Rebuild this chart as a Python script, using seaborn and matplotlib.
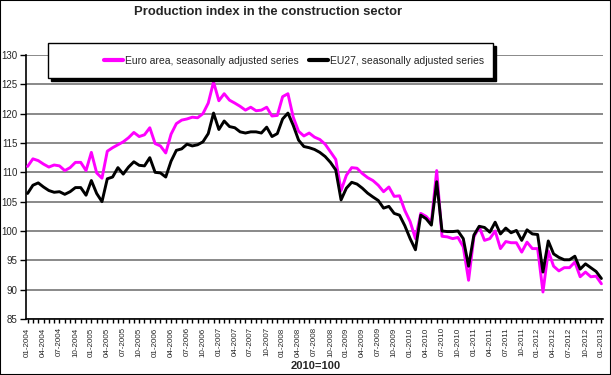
import numpy as np
import pandas as pd
import matplotlib
matplotlib.use("Agg")
import matplotlib.pyplot as plt
import seaborn as sns
from matplotlib.lines import Line2D
from matplotlib.patches import Rectangle

# ---------------- data ----------------
euro_area = [
    111.0, 112.3, 112.0, 111.4, 110.9, 111.25, 111.1, 110.3, 110.8, 111.7, 111.7, 110.3,   # 2004
    113.4, 109.9, 109.0, 113.6, 114.2, 114.7, 115.2, 115.9, 116.8, 116.1, 116.4, 117.6,    # 2005
    114.9, 114.5, 113.3, 116.5, 118.3, 118.9, 119.1, 119.4, 119.3, 120.0, 121.8, 125.4,    # 2006
    122.2, 123.4, 122.3, 121.8, 121.25, 120.6, 121.1, 120.5, 120.6, 121.1, 119.6, 119.7,   # 2007
    122.9, 123.4, 119.4, 117.0, 116.2, 116.7, 116.0, 115.6, 114.8, 113.5, 112.2, 106.9,    # 2008
    109.5, 110.8, 110.7, 109.8, 109.1, 108.6, 107.8, 106.7, 107.5, 105.9, 106.0, 103.5,    # 2009
    101.6, 98.7, 103.0, 102.5, 101.5, 110.3, 99.1, 99.0, 98.7, 98.9, 97.3, 91.6,           # 2010
    99.0, 100.7, 98.4, 98.7, 100.0, 97.0, 98.2, 98.0, 98.0, 96.4, 98.1, 97.0,              # 2011
    97.0, 89.6, 96.6, 94.0, 93.2, 93.75, 93.75, 94.7, 92.2, 93.0, 92.2, 92.3,              # 2012
    91.0,                                                                                  # 2013
]
eu27 = [
    106.4, 107.8, 108.2, 107.5, 106.9, 106.6, 106.7, 106.25, 106.7, 107.4, 107.4, 106.1,   # 2004
    108.6, 106.4, 105.0, 108.9, 109.2, 110.8, 109.7, 110.9, 111.8, 111.2, 111.1, 112.5,    # 2005
    110.0, 109.9, 109.2, 111.9, 113.75, 114.0, 114.8, 114.5, 114.7, 115.2, 116.6, 120.1,   # 2006
    117.3, 118.75, 117.8, 117.6, 116.9, 116.7, 116.9, 116.9, 116.7, 117.7, 116.1, 116.6,   # 2007
    119.1, 120.1, 118.0, 115.5, 114.4, 114.2, 113.9, 113.4, 112.7, 111.7, 110.4, 105.3,    # 2008
    107.3, 108.3, 108.0, 107.3, 106.45, 105.8, 105.2, 103.9, 104.2, 103.0, 102.7, 100.9,   # 2009
    98.7, 96.8, 102.7, 102.1, 101.0, 108.4, 100.0, 99.9, 99.9, 100.0, 98.7, 94.0,          # 2010
    99.3, 100.8, 100.6, 99.8, 101.5, 99.5, 100.5, 99.7, 100.1, 98.4, 100.2, 99.5,          # 2011
    99.4, 93.0, 98.3, 96.1, 95.5, 95.1, 95.1, 95.7, 93.5, 94.4, 93.75, 93.1,               # 2012
    91.9,                                                                                  # 2013
]
series_names = ["Euro area, seasonally adjusted series", "EU27, seasonally adjusted series"]
series_colors = ["#FF00FF", "#000000"]
months = pd.date_range("2004-01-01", periods=len(euro_area), freq="MS")
month_labels = [d.strftime("%m-%Y") for d in months]
y_ticks = [85, 90, 95, 100, 105, 110, 115, 120, 125, 130]

df = pd.DataFrame({
    "idx": list(range(len(euro_area))) * 2,
    "value": euro_area + eu27,
    "series": [series_names[0]] * len(euro_area) + [series_names[1]] * len(eu27),
})

# ---------------- figure ----------------
sns.set_theme(style="white")
plt.rcParams["font.family"] = ["Liberation Sans", "DejaVu Sans"]

fig = plt.figure(figsize=(6.11, 3.75), dpi=100)
ax = fig.add_axes([26 / 611, 1 - 319 / 375, (603 - 26) / 611, (319 - 55) / 375])

for yv in y_ticks:
    ax.axhline(yv, color="#808080", lw=1.3, zorder=0)

sns.lineplot(data=df, x="idx", y="value", hue="series", palette=series_colors,
             hue_order=series_names, lw=2.1, ax=ax, legend=False, zorder=3)

ax.set_xlim(-0.3, len(euro_area) - 1 + 0.3)
ax.set_ylim(85, 130)
ax.set_yticks(y_ticks)
ax.set_yticklabels([str(v) for v in y_ticks], fontsize=7)
ax.set_xticks(list(range(0, len(euro_area), 3)))
ax.set_xticklabels(month_labels[::3], rotation=90, fontsize=5.8)
ax.set_xticks(list(range(len(euro_area))), minor=True)
ax.tick_params(axis="y", which="major", direction="out", length=4, width=1, color="black", pad=2, left=True)
ax.tick_params(axis="x", which="major", direction="out", length=3, width=1, color="black", pad=3, bottom=True)
ax.tick_params(axis="x", which="minor", direction="out", length=3, width=1, color="black", bottom=True)
ax.set_xlabel("")
ax.set_ylabel("")
for s in ["top", "right"]:
    ax.spines[s].set_visible(False)
ax.spines["left"].set_color("black")
ax.spines["left"].set_linewidth(1.2)
ax.spines["bottom"].set_color("black")
ax.spines["bottom"].set_linewidth(1.2)

# title
fig.text(268 / 611, 1 - 12 / 375, "Production index in the construction sector",
         ha="center", va="center", fontsize=9.4, fontweight="bold")
# base note
fig.text(316 / 611, 1 - 366 / 375, "2010=100", ha="center", va="center",
         fontsize=8, fontweight="bold")

# legend box with shadow
bx0, bx1, by0, by1 = 48, 493, 43, 78
fig.patches.append(Rectangle(((bx0 + 3) / 611, 1 - (by1 + 3) / 375), (bx1 - bx0) / 611, (by1 - by0) / 375,
                             transform=fig.transFigure, facecolor="black", edgecolor="black", zorder=5))
fig.patches.append(Rectangle((bx0 / 611, 1 - by1 / 375), (bx1 - bx0) / 611, (by1 - by0) / 375,
                             transform=fig.transFigure, facecolor="white", edgecolor="black", lw=1, zorder=6))
handles = [Line2D([0], [0], color=c, lw=3) for c in series_colors]
leg = fig.legend(handles, series_names, ncol=2, loc="center left",
                 bbox_to_anchor=(95 / 611, 1 - 61 / 375), frameon=False, fontsize=7.5,
                 handlelength=1.8, handletextpad=0.2, columnspacing=0.95)
leg.set_zorder(7)

# outer border
fig.patches.append(Rectangle((0, 0), 1, 1, transform=fig.transFigure, fill=False,
                             edgecolor="black", lw=1.5, zorder=10))

fig.savefig("out.png", dpi=100)
